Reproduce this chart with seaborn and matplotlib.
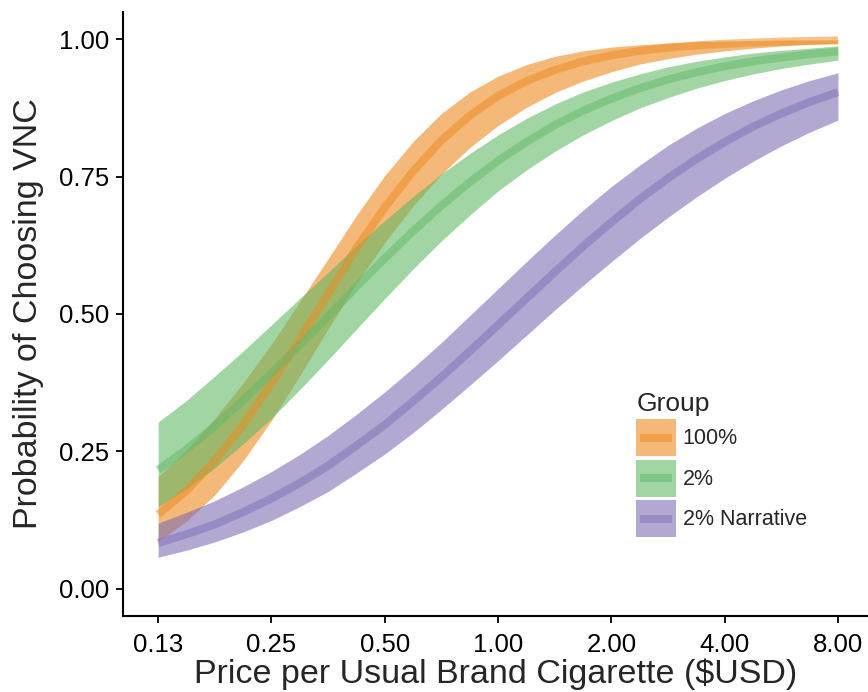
import matplotlib
matplotlib.use("Agg")
import matplotlib.pyplot as plt
from matplotlib.patches import Rectangle
from matplotlib.lines import Line2D
from matplotlib.legend_handler import HandlerBase
import pandas as pd
import seaborn as sns

# Values (price on a log2 axis)
price = [0.125, 0.149, 0.177, 0.210, 0.250, 0.297, 0.354, 0.420, 0.500,
         0.595, 0.707, 0.841, 1.000, 1.189, 1.414, 1.682, 2.000, 2.378,
         2.828, 3.364, 4.000, 4.757, 5.657, 6.727, 8.000]

groups = ["100%", "2%", "2% Narrative"]

p100_fit = [0.135, 0.179, 0.233, 0.298, 0.373, 0.454, 0.537, 0.619, 0.694,
            0.760, 0.816, 0.861, 0.897, 0.924, 0.944, 0.960, 0.971, 0.979,
            0.985, 0.989, 0.992, 0.994, 0.996, 0.997, 0.998]
p100_lo = [0.086, 0.123, 0.171, 0.232, 0.306, 0.387, 0.473, 0.555, 0.630,
           0.697, 0.754, 0.803, 0.843, 0.876, 0.903, 0.924, 0.941, 0.955,
           0.965, 0.973, 0.979, 0.984, 0.988, 0.991, 0.993]
p100_hi = [0.204, 0.253, 0.310, 0.374, 0.445, 0.522, 0.601, 0.679, 0.752,
           0.814, 0.865, 0.904, 0.933, 0.954, 0.969, 0.979, 0.986, 0.990,
           0.993, 0.996, 0.997, 0.998, 0.999, 0.999, 0.999]

p2_fit = [0.216, 0.254, 0.296, 0.343, 0.392, 0.443, 0.496, 0.549, 0.601,
          0.651, 0.697, 0.740, 0.779, 0.813, 0.844, 0.870, 0.892, 0.911,
          0.927, 0.940, 0.951, 0.960, 0.967, 0.973, 0.978]
p2_lo = [0.149, 0.182, 0.220, 0.263, 0.310, 0.362, 0.417, 0.472, 0.528,
         0.582, 0.633, 0.680, 0.724, 0.762, 0.796, 0.826, 0.852, 0.875,
         0.894, 0.911, 0.925, 0.937, 0.947, 0.955, 0.962]
p2_hi = [0.303, 0.343, 0.387, 0.432, 0.480, 0.528, 0.576, 0.624, 0.670,
         0.714, 0.755, 0.792, 0.826, 0.856, 0.882, 0.904, 0.922, 0.937,
         0.950, 0.960, 0.968, 0.975, 0.980, 0.984, 0.988]

pnar_fit = [0.083, 0.099, 0.117, 0.139, 0.164, 0.192, 0.224, 0.260, 0.298,
            0.341, 0.385, 0.432, 0.480, 0.528, 0.576, 0.623, 0.667, 0.709,
            0.747, 0.782, 0.813, 0.841, 0.865, 0.886, 0.904]
pnar_lo = [0.057, 0.070, 0.085, 0.103, 0.124, 0.149, 0.177, 0.210, 0.245,
           0.284, 0.326, 0.370, 0.415, 0.461, 0.507, 0.552, 0.595, 0.637,
           0.676, 0.713, 0.747, 0.778, 0.806, 0.831, 0.853]
pnar_hi = [0.119, 0.139, 0.160, 0.185, 0.213, 0.244, 0.279, 0.317, 0.358,
           0.402, 0.448, 0.497, 0.546, 0.595, 0.643, 0.689, 0.732, 0.771,
           0.807, 0.838, 0.865, 0.888, 0.908, 0.925, 0.939]

x_ticks = [0.125, 0.25, 0.5, 1, 2, 4, 8]
x_ticklabels = ["0.13", "0.25", "0.50", "1.00", "2.00", "4.00", "8.00"]
y_ticks = [0.0, 0.25, 0.5, 0.75, 1.0]
y_ticklabels = ["0.00", "0.25", "0.50", "0.75", "1.00"]

colors = {"100%": "#ED8A1E", "2%": "#64B967", "2% Narrative": "#806EB4"}

fits = {"100%": p100_fit, "2%": p2_fit, "2% Narrative": pnar_fit}
lows = {"100%": p100_lo, "2%": p2_lo, "2% Narrative": pnar_lo}
highs = {"100%": p100_hi, "2%": p2_hi, "2% Narrative": pnar_hi}

df = pd.concat([pd.DataFrame({"price": price, "prob": fits[g], "group": g})
                for g in groups], ignore_index=True)


class RibbonKey(HandlerBase):
    # legend key: filled box with the line across its middle
    def create_artists(self, legend, orig_handle, xdescent, ydescent,
                       width, height, fontsize, trans):
        c = orig_handle.get_color()
        box = Rectangle((-xdescent, -ydescent), width, height, facecolor=c,
                        alpha=0.6, linewidth=0, transform=trans)
        yc = -ydescent + height / 2
        ln = Line2D([-xdescent + 3, -xdescent + width - 3], [yc, yc],
                    color=c, alpha=0.5, linewidth=5.8, solid_capstyle="butt",
                    transform=trans)
        return [box, ln]


sns.set_style("ticks")
plt.rcParams["font.family"] = ["Liberation Sans", "DejaVu Sans"]

fig = plt.figure(figsize=(8.68, 6.92), dpi=100)
ax = fig.add_axes([0.1417, 0.1098, 0.8583, 0.873])

# ribbons first, then lines
for g in groups:
    ax.fill_between(price, lows[g], highs[g], color=colors[g], alpha=0.6,
                    linewidth=0, zorder=1)
sns.lineplot(data=df, x="price", y="prob", hue="group", hue_order=groups,
             palette=colors, linewidth=5.8, alpha=0.5, legend=False,
             solid_capstyle="butt", ax=ax, zorder=2)

ax.set_xscale("log", base=2)
ax.set_xlim(2 ** -3.31, 2 ** 3.265)
ax.set_ylim(-0.05, 1.05)
ax.set_xticks(x_ticks)
ax.set_xticklabels(x_ticklabels)
ax.minorticks_off()
ax.set_yticks(y_ticks)
ax.set_yticklabels(y_ticklabels)
ax.tick_params(axis="both", labelsize=18.5, length=5, width=1.3,
               color="black", labelcolor="black")
ax.tick_params(axis="x", pad=7)
ax.tick_params(axis="y", pad=5)
for s in ["top", "right"]:
    ax.spines[s].set_visible(False)
for s in ["left", "bottom"]:
    ax.spines[s].set_linewidth(1.5)
    ax.spines[s].set_color("black")

ax.set_xlabel("Price per Usual Brand Cigarette ($USD)", fontsize=24.5,
              labelpad=1)
ax.set_ylabel("Probability of Choosing VNC", fontsize=24.5, labelpad=11)

handles = [Line2D([], [], color=colors[g]) for g in groups]
ax.legend(handles, groups, title="Group", loc="upper left",
          bbox_to_anchor=(0.733, 0.434), bbox_transform=fig.transFigure,
          frameon=False, fontsize=15.5, title_fontsize=19,
          handlelength=1.85, handleheight=2.27, labelspacing=0.16,
          handletextpad=0.3, borderpad=0, borderaxespad=0, alignment="left",
          handler_map={Line2D: RibbonKey()})

fig.savefig("out.png", dpi=100)
